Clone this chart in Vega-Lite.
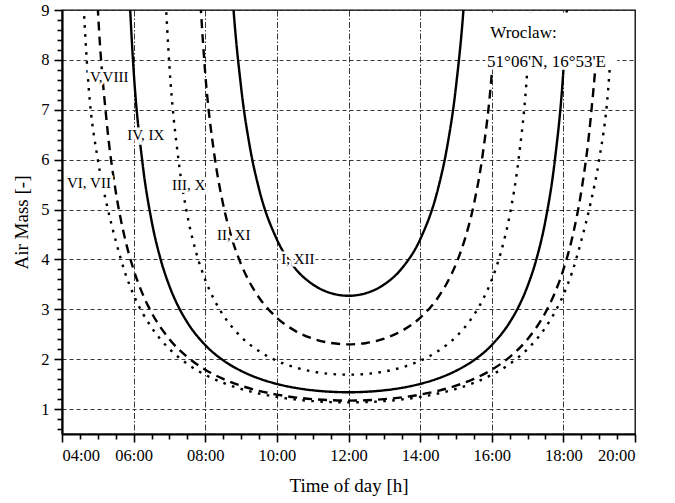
{
  "$schema": "https://vega.github.io/schema/vega-lite/v6.json",
  "width": 573,
  "height": 424,
  "autosize": {"type": "none"},
  "padding": {"left": 62, "top": 10, "right": 40, "bottom": 69},
  "background": "white",
  "config": {
    "view": {"stroke": "black", "strokeWidth": 1.3},
    "font": "Liberation Serif",
    "axis": {"labelFont": "Liberation Serif", "titleFont": "Liberation Serif", "labelColor": "black", "titleColor": "black", "titleFontWeight": "normal", "domainColor": "black", "tickColor": "black"}
  },
  "datasets": {
    "curves": [
      {"c": "I, XII", "t": 8.5, "am": 13.08}, {"c": "I, XII", "t": 8.75, "am": 9.424}, {"c": "I, XII", "t": 9, "am": 7.457}, {"c": "I, XII", "t": 9.25, "am": 6.238}, {"c": "I, XII", "t": 9.5, "am": 5.417}, {"c": "I, XII", "t": 10, "am": 4.401}, {"c": "I, XII", "t": 10.5, "am": 3.83}, {"c": "I, XII", "t": 11, "am": 3.5}, {"c": "I, XII", "t": 11.5, "am": 3.326}, {"c": "I, XII", "t": 12, "am": 3.271}, {"c": "I, XII", "t": 12.5, "am": 3.326}, {"c": "I, XII", "t": 13, "am": 3.5}, {"c": "I, XII", "t": 13.5, "am": 3.83}, {"c": "I, XII", "t": 14, "am": 4.401}, {"c": "I, XII", "t": 14.5, "am": 5.417}, {"c": "I, XII", "t": 14.75, "am": 6.238}, {"c": "I, XII", "t": 15, "am": 7.457}, {"c": "I, XII", "t": 15.25, "am": 9.424}, {"c": "I, XII", "t": 15.5, "am": 13.08},

      {"c": "II, XI", "t": 7.75, "am": 10.62}, {"c": "II, XI", "t": 8, "am": 7.725}, {"c": "II, XI", "t": 8.25, "am": 6.118}, {"c": "II, XI", "t": 8.5, "am": 5.103}, {"c": "II, XI", "t": 8.75, "am": 4.407}, {"c": "II, XI", "t": 9, "am": 3.904}, {"c": "II, XI", "t": 9.25, "am": 3.527}, {"c": "II, XI", "t": 9.5, "am": 3.237}, {"c": "II, XI", "t": 10, "am": 2.83}, {"c": "II, XI", "t": 10.5, "am": 2.572}, {"c": "II, XI", "t": 11, "am": 2.413}, {"c": "II, XI", "t": 11.5, "am": 2.325}, {"c": "II, XI", "t": 12, "am": 2.297}, {"c": "II, XI", "t": 12.5, "am": 2.325}, {"c": "II, XI", "t": 13, "am": 2.413}, {"c": "II, XI", "t": 13.5, "am": 2.572}, {"c": "II, XI", "t": 14, "am": 2.83}, {"c": "II, XI", "t": 14.5, "am": 3.237}, {"c": "II, XI", "t": 14.75, "am": 3.527}, {"c": "II, XI", "t": 15, "am": 3.904}, {"c": "II, XI", "t": 15.25, "am": 4.407}, {"c": "II, XI", "t": 15.5, "am": 5.103}, {"c": "II, XI", "t": 15.75, "am": 6.118}, {"c": "II, XI", "t": 16, "am": 7.725}, {"c": "II, XI", "t": 16.25, "am": 10.62},

      {"c": "III, X", "t": 6.75, "am": 11.48}, {"c": "III, X", "t": 7, "am": 7.869}, {"c": "III, X", "t": 7.25, "am": 6.011}, {"c": "III, X", "t": 7.5, "am": 4.883}, {"c": "III, X", "t": 7.75, "am": 4.129}, {"c": "III, X", "t": 8, "am": 3.592}, {"c": "III, X", "t": 8.25, "am": 3.192}, {"c": "III, X", "t": 8.5, "am": 2.885}, {"c": "III, X", "t": 9, "am": 2.449}, {"c": "III, X", "t": 9.5, "am": 2.162}, {"c": "III, X", "t": 10, "am": 1.968}, {"c": "III, X", "t": 10.5, "am": 1.837}, {"c": "III, X", "t": 11, "am": 1.752}, {"c": "III, X", "t": 11.5, "am": 1.704}, {"c": "III, X", "t": 12, "am": 1.689}, {"c": "III, X", "t": 12.5, "am": 1.704}, {"c": "III, X", "t": 13, "am": 1.752}, {"c": "III, X", "t": 13.5, "am": 1.837}, {"c": "III, X", "t": 14, "am": 1.968}, {"c": "III, X", "t": 14.5, "am": 2.162}, {"c": "III, X", "t": 15, "am": 2.449}, {"c": "III, X", "t": 15.5, "am": 2.885}, {"c": "III, X", "t": 15.75, "am": 3.192}, {"c": "III, X", "t": 16, "am": 3.592}, {"c": "III, X", "t": 16.25, "am": 4.129}, {"c": "III, X", "t": 16.5, "am": 4.883}, {"c": "III, X", "t": 16.75, "am": 6.011}, {"c": "III, X", "t": 17, "am": 7.869}, {"c": "III, X", "t": 17.25, "am": 11.48},

      {"c": "IV, IX", "t": 5.75, "am": 11.38}, {"c": "IV, IX", "t": 6, "am": 7.788}, {"c": "IV, IX", "t": 6.25, "am": 5.92}, {"c": "IV, IX", "t": 6.5, "am": 4.779}, {"c": "IV, IX", "t": 6.75, "am": 4.012}, {"c": "IV, IX", "t": 7, "am": 3.464}, {"c": "IV, IX", "t": 7.25, "am": 3.053}, {"c": "IV, IX", "t": 7.5, "am": 2.737}, {"c": "IV, IX", "t": 8, "am": 2.283}, {"c": "IV, IX", "t": 8.5, "am": 1.978}, {"c": "IV, IX", "t": 9, "am": 1.766}, {"c": "IV, IX", "t": 9.5, "am": 1.613}, {"c": "IV, IX", "t": 10, "am": 1.504}, {"c": "IV, IX", "t": 10.5, "am": 1.427}, {"c": "IV, IX", "t": 11, "am": 1.376}, {"c": "IV, IX", "t": 11.5, "am": 1.347}, {"c": "IV, IX", "t": 12, "am": 1.337}, {"c": "IV, IX", "t": 12.5, "am": 1.347}, {"c": "IV, IX", "t": 13, "am": 1.376}, {"c": "IV, IX", "t": 13.5, "am": 1.427}, {"c": "IV, IX", "t": 14, "am": 1.504}, {"c": "IV, IX", "t": 14.5, "am": 1.613}, {"c": "IV, IX", "t": 15, "am": 1.766}, {"c": "IV, IX", "t": 15.5, "am": 1.978}, {"c": "IV, IX", "t": 16, "am": 2.283}, {"c": "IV, IX", "t": 16.5, "am": 2.737}, {"c": "IV, IX", "t": 16.75, "am": 3.053}, {"c": "IV, IX", "t": 17, "am": 3.464}, {"c": "IV, IX", "t": 17.25, "am": 4.012}, {"c": "IV, IX", "t": 17.5, "am": 4.779}, {"c": "IV, IX", "t": 17.75, "am": 5.92}, {"c": "IV, IX", "t": 18, "am": 7.788}, {"c": "IV, IX", "t": 18.25, "am": 11.38},

      {"c": "V, VIII", "t": 4.75, "am": 13.58}, {"c": "V, VIII", "t": 5, "am": 9.037}, {"c": "V, VIII", "t": 5.25, "am": 6.742}, {"c": "V, VIII", "t": 5.5, "am": 5.363}, {"c": "V, VIII", "t": 5.75, "am": 4.445}, {"c": "V, VIII", "t": 6, "am": 3.794}, {"c": "V, VIII", "t": 6.25, "am": 3.309}, {"c": "V, VIII", "t": 6.5, "am": 2.935}, {"c": "V, VIII", "t": 7, "am": 2.401}, {"c": "V, VIII", "t": 7.5, "am": 2.042}, {"c": "V, VIII", "t": 8, "am": 1.789}, {"c": "V, VIII", "t": 8.5, "am": 1.604}, {"c": "V, VIII", "t": 9, "am": 1.468}, {"c": "V, VIII", "t": 9.5, "am": 1.365}, {"c": "V, VIII", "t": 10, "am": 1.29}, {"c": "V, VIII", "t": 10.5, "am": 1.235}, {"c": "V, VIII", "t": 11, "am": 1.199}, {"c": "V, VIII", "t": 11.5, "am": 1.177}, {"c": "V, VIII", "t": 12, "am": 1.17}, {"c": "V, VIII", "t": 12.5, "am": 1.177}, {"c": "V, VIII", "t": 13, "am": 1.199}, {"c": "V, VIII", "t": 13.5, "am": 1.235}, {"c": "V, VIII", "t": 14, "am": 1.29}, {"c": "V, VIII", "t": 14.5, "am": 1.365}, {"c": "V, VIII", "t": 15, "am": 1.468}, {"c": "V, VIII", "t": 15.5, "am": 1.604}, {"c": "V, VIII", "t": 16, "am": 1.789}, {"c": "V, VIII", "t": 16.5, "am": 2.042}, {"c": "V, VIII", "t": 17, "am": 2.401}, {"c": "V, VIII", "t": 17.5, "am": 2.935}, {"c": "V, VIII", "t": 17.75, "am": 3.309}, {"c": "V, VIII", "t": 18, "am": 3.794}, {"c": "V, VIII", "t": 18.25, "am": 4.445}, {"c": "V, VIII", "t": 18.5, "am": 5.363}, {"c": "V, VIII", "t": 18.75, "am": 6.742}, {"c": "V, VIII", "t": 19, "am": 9.037}, {"c": "V, VIII", "t": 19.25, "am": 13.58},

      {"c": "VI, VII", "t": 4.5, "am": 10.5}, {"c": "VI, VII", "t": 4.75, "am": 7.4}, {"c": "VI, VII", "t": 5, "am": 6.0}, {"c": "VI, VII", "t": 5.25, "am": 5.1}, {"c": "VI, VII", "t": 5.5, "am": 4.376}, {"c": "VI, VII", "t": 5.75, "am": 3.757}, {"c": "VI, VII", "t": 6, "am": 3.289}, {"c": "VI, VII", "t": 6.5, "am": 2.635}, {"c": "VI, VII", "t": 7, "am": 2.205}, {"c": "VI, VII", "t": 7.5, "am": 1.904}, {"c": "VI, VII", "t": 8, "am": 1.686}, {"c": "VI, VII", "t": 8.5, "am": 1.525}, {"c": "VI, VII", "t": 9, "am": 1.403}, {"c": "VI, VII", "t": 9.5, "am": 1.311}, {"c": "VI, VII", "t": 10, "am": 1.243}, {"c": "VI, VII", "t": 10.5, "am": 1.193}, {"c": "VI, VII", "t": 11, "am": 1.16}, {"c": "VI, VII", "t": 11.5, "am": 1.14}, {"c": "VI, VII", "t": 12, "am": 1.134}, {"c": "VI, VII", "t": 12.5, "am": 1.14}, {"c": "VI, VII", "t": 13, "am": 1.16}, {"c": "VI, VII", "t": 13.5, "am": 1.193}, {"c": "VI, VII", "t": 14, "am": 1.243}, {"c": "VI, VII", "t": 14.5, "am": 1.311}, {"c": "VI, VII", "t": 15, "am": 1.403}, {"c": "VI, VII", "t": 15.5, "am": 1.525}, {"c": "VI, VII", "t": 16, "am": 1.686}, {"c": "VI, VII", "t": 16.5, "am": 1.904}, {"c": "VI, VII", "t": 17, "am": 2.205}, {"c": "VI, VII", "t": 17.5, "am": 2.635}, {"c": "VI, VII", "t": 18, "am": 3.289}, {"c": "VI, VII", "t": 18.25, "am": 3.757}, {"c": "VI, VII", "t": 18.5, "am": 4.376}, {"c": "VI, VII", "t": 18.75, "am": 5.1}, {"c": "VI, VII", "t": 19, "am": 6.0}, {"c": "VI, VII", "t": 19.25, "am": 7.4}, {"c": "VI, VII", "t": 19.5, "am": 10.5}
    ],
    "labels": [
      {"label": "V,VIII", "t": 4.78, "am": 7.66},
      {"label": "IV, IX", "t": 5.82, "am": 6.5},
      {"label": "VI, VII", "t": 4.14, "am": 5.53},
      {"label": "III, X", "t": 7.07, "am": 5.49},
      {"label": "II, XI", "t": 8.33, "am": 4.49},
      {"label": "I, XII", "t": 10.12, "am": 4.01}
    ],
    "place": [
      {"label": "Wroclaw:", "t": 15.96, "am": 8.54},
      {"label": "51°06'N, 16°53'E", "t": 15.87, "am": 7.96}
    ],
    "box": [{"t1": 15.82, "t2": 19.5, "a1": 7.8, "a2": 8.95}]
  },
  "layer": [
    {
      "data": {"name": "curves"},
      "mark": {"type": "line", "clip": true, "interpolate": "monotone", "color": "black", "strokeWidth": 2.4},
      "encoding": {
        "x": {"field": "t", "type": "quantitative", "scale": {"domain": [4, 20], "nice": false, "zero": false},
          "axis": {"orient": "bottom", "values": [4, 6, 8, 10, 12, 14, 16, 18, 20], "labelExpr": "(datum.value < 10 ? '0' : '') + datum.value + ':00'",
            "grid": true, "gridColor": "#222", "gridWidth": 0.9, "gridDash": [6, 2, 1.5, 2], "tickSize": 8, "tickWidth": 1.6, "domainWidth": 2.2,
            "labelFontSize": 16.5, "labelPadding": 5, "title": "Time of day [h]", "titleFontSize": 19, "titlePadding": 13}},
        "y": {"field": "am", "type": "quantitative", "scale": {"domain": [0.5, 9], "nice": false, "zero": false},
          "axis": {"orient": "left", "values": [1, 2, 3, 4, 5, 6, 7, 8, 9], "grid": true, "gridColor": "#222", "gridWidth": 0.9, "gridDash": [4, 3],
            "tickSize": 8, "tickWidth": 1.6, "domainWidth": 2.2, "labelFontSize": 16.5, "labelPadding": 5, "title": "Air Mass [-]", "titleFontSize": 19, "titlePadding": 9}},
        "detail": {"field": "c", "type": "nominal"},
        "strokeDash": {"field": "c", "type": "nominal", "legend": null,
          "scale": {"domain": ["I, XII", "II, XI", "III, X", "IV, IX", "V, VIII", "VI, VII"],
            "range": [[1, 0], [9, 6], [2.6, 6.4], [1, 0], [9, 6], [2.6, 6.4]]}}
      }
    },
    {
      "data": {"name": "box"},
      "mark": {"type": "rect", "color": "white"},
      "encoding": {
        "x": {"field": "t1", "type": "quantitative",
          "axis": {"orient": "bottom", "values": [4.5, 5, 5.5, 6.5, 7, 7.5, 8.5, 9, 9.5, 10.5, 11, 11.5, 12.5, 13, 13.5, 14.5, 15, 15.5, 16.5, 17, 17.5, 18.5, 19, 19.5],
            "labels": false, "domain": false, "grid": false, "tickSize": 5, "tickWidth": 1.6, "title": null}},
        "x2": {"field": "t2"},
        "y": {"field": "a1", "type": "quantitative",
          "axis": {"orient": "left", "values": [0.6, 0.8, 1.2, 1.4, 1.6, 1.8, 2.2, 2.4, 2.6, 2.8, 3.2, 3.4, 3.6, 3.8, 4.2, 4.4, 4.6, 4.8, 5.2, 5.4, 5.6, 5.8, 6.2, 6.4, 6.6, 6.8, 7.2, 7.4, 7.6, 7.8, 8.2, 8.4, 8.6, 8.8],
            "labels": false, "domain": false, "grid": false, "tickSize": 5, "tickWidth": 1.6, "title": null}},
        "y2": {"field": "a2"}
      }
    },
    {
      "data": {"name": "labels"},
      "mark": {"type": "text", "align": "left", "baseline": "middle", "font": "Liberation Serif", "fontSize": 15, "color": "white", "stroke": "white", "strokeWidth": 5},
      "encoding": {
        "x": {"field": "t", "type": "quantitative", "axis": null},
        "y": {"field": "am", "type": "quantitative", "axis": null},
        "text": {"field": "label"}
      }
    },
    {
      "data": {"name": "labels"},
      "mark": {"type": "text", "align": "left", "baseline": "middle", "font": "Liberation Serif", "fontSize": 15, "color": "black"},
      "encoding": {
        "x": {"field": "t", "type": "quantitative", "axis": null},
        "y": {"field": "am", "type": "quantitative", "axis": null},
        "text": {"field": "label"}
      }
    },
    {
      "data": {"name": "place"},
      "mark": {"type": "text", "align": "left", "baseline": "middle", "font": "Liberation Serif", "fontSize": 17, "color": "black"},
      "encoding": {
        "x": {"field": "t", "type": "quantitative", "axis": null},
        "y": {"field": "am", "type": "quantitative", "axis": null},
        "text": {"field": "label"}
      }
    }
  ],
  "resolve": {"axis": {"x": "independent", "y": "independent"}}
}
